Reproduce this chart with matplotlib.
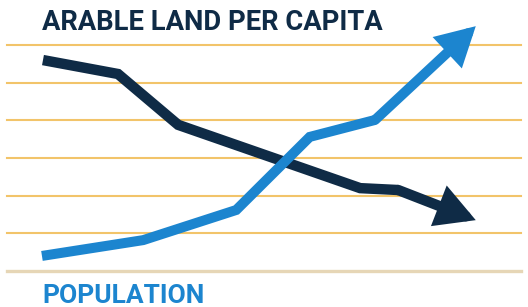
#Arable land per capita vs population, conceptual line chart

import matplotlib
matplotlib.use("Agg")
from matplotlib import pyplot as plt

# Data (x in time units, y in gridline units: bottom rule = 0, top line = 6)
land_x = [0.70, 2.16, 3.33, 6.87, 7.61, 9.12]
land_y = [5.60, 5.23, 3.88, 2.20, 2.15, 1.35]

pop_x = [0.68, 2.65, 4.46, 5.89, 7.16, 9.12]
pop_y = [0.40, 0.82, 1.62, 3.56, 4.01, 6.50]

grid_levels = [1, 2, 3, 4, 5, 6]

title_text = "ARABLE LAND PER CAPITA"
pop_text = "POPULATION"

navy = "#0f2b46"
blue = "#1c85cf"
gold = "#f2c46a"
tan = "#e6d6b6"

fig = plt.figure(figsize=(5.28, 3.07), dpi=100)
ax = fig.add_axes([7 / 528, 1 - 271 / 307, 514 / 528, 226 / 307])
ax.set_xlim(0, 10)
ax.set_ylim(0, 6)
ax.axis("off")

for g in grid_levels:
    ax.axhline(g, color=gold, lw=1.5, zorder=1, clip_on=False)
ax.axhline(0, color=tan, lw=2.4, zorder=1, clip_on=False)

def arrow_line(xs, ys, color, lw):
    ax.plot(xs[:-1], ys[:-1], color=color, lw=lw, solid_joinstyle="miter",
            solid_capstyle="butt", zorder=3, clip_on=False)
    ax.annotate("", xy=(xs[-1], ys[-1]), xytext=(xs[-2], ys[-2]),
                arrowprops=dict(arrowstyle="-|>,head_length=1.0,head_width=0.55",
                                mutation_scale=17, lw=lw, color=color,
                                shrinkA=0, shrinkB=0, joinstyle="miter"),
                zorder=3, annotation_clip=False)

arrow_line(land_x, land_y, navy, 7.5)
arrow_line(pop_x, pop_y, blue, 7.2)

fig.text(42 / 528, 1 - 30 / 307, title_text, color=navy, fontsize=19.7,
         fontweight="bold", family="Roboto", va="baseline", ha="left")
fig.text(42 / 528, 1 - 303 / 307, pop_text, color=blue, fontsize=19,
         fontweight="bold", family="Roboto", va="baseline", ha="left")

plt.savefig("out.png", dpi=100)
